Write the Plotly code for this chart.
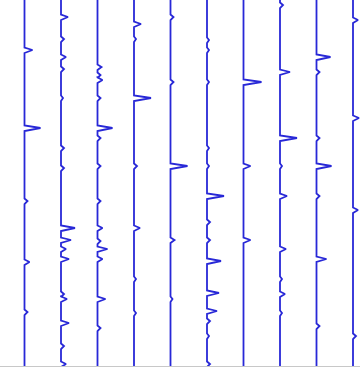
import plotly.graph_objects as go

# Peak lists per lane: (position from top, peak height) ; height in lane-width fractions of 36.5 px
lane_1_pos = [50, 128, 201, 262, 312]
lane_1_amp = [8, 16, 3, 5, 3]
lane_2_pos = [17, 39, 57, 69, 98, 148, 168, 228, 240, 249, 259, 294, 299, 323, 346, 364]
lane_2_amp = [7, 3, 5, 3, 2, 3, 3, 14, 10, 5, 8, 3, 6, 8, 3, 5]
lane_3_pos = [67, 75, 80, 98, 128, 138, 166, 201, 228, 241, 249, 259, 299, 328]
lane_3_amp = [4, 3, 5, 3, 15, 3, 3, 3, 5, 3, 10, 5, 8, 3]
lane_4_pos = [24, 39, 98, 166, 228, 279, 313]
lane_4_amp = [7, 2, 17, 3, 6, 2, 2]
lane_5_pos = [17, 82, 166, 240, 299]
lane_5_amp = [3, 3, 17, 4, 2]
lane_6_pos = [40, 50, 82, 148, 166, 196, 222, 240, 261, 293, 311, 321, 336, 364]
lane_6_amp = [2, 2, 2, 2, 2, 17, 3, 3, 14, 12, 10, 3, 2, 3]
lane_7_pos = [82, 166, 240]
lane_7_amp = [18, 7, 7]
lane_8_pos = [5, 72, 138, 166, 196, 249, 279, 294, 313]
lane_8_amp = [3, 10, 17, 2, 7, 6, 2, 5, 2]
lane_9_pos = [57, 72, 138, 166, 196, 259, 326]
lane_9_amp = [14, 3, 3, 15, 3, 10, 3]
lane_10_pos = [20, 118, 210, 336]
lane_10_amp = [5, 6, 5, 3]

lanes = [
    (lane_1_pos, lane_1_amp), (lane_2_pos, lane_2_amp), (lane_3_pos, lane_3_amp),
    (lane_4_pos, lane_4_amp), (lane_5_pos, lane_5_amp), (lane_6_pos, lane_6_amp),
    (lane_7_pos, lane_7_amp), (lane_8_pos, lane_8_amp), (lane_9_pos, lane_9_amp),
    (lane_10_pos, lane_10_amp),
]

LANE_W = 36.5
T_END = 366

fig = go.Figure()
for i, (pos, amp) in enumerate(lanes):
    xs, ys = [i], [0]
    for p, a in zip(pos, amp):
        xs += [i, i + a / LANE_W, i]
        ys += [p - 2.5, p, p + 3]
    xs.append(i)
    ys.append(T_END)
    fig.add_trace(go.Scatter(x=xs, y=ys, mode="lines",
                             line=dict(color="rgb(40,40,215)", width=1.8),
                             hoverinfo="skip", showlegend=False))

fig.update_layout(
    width=360, height=369,
    margin=dict(l=0, r=0, t=0, b=3),
    paper_bgcolor="white", plot_bgcolor="white",
    xaxis=dict(range=[-24.5 / LANE_W, (360 - 24.5) / LANE_W], showgrid=False,
               zeroline=False, showticklabels=False, ticks="",
               showline=True, linecolor="#c8c8c8", linewidth=1),
    yaxis=dict(range=[T_END, 0], showgrid=False, zeroline=False,
               showticklabels=False, ticks="", showline=False),
)
fig.write_html("out.html")
